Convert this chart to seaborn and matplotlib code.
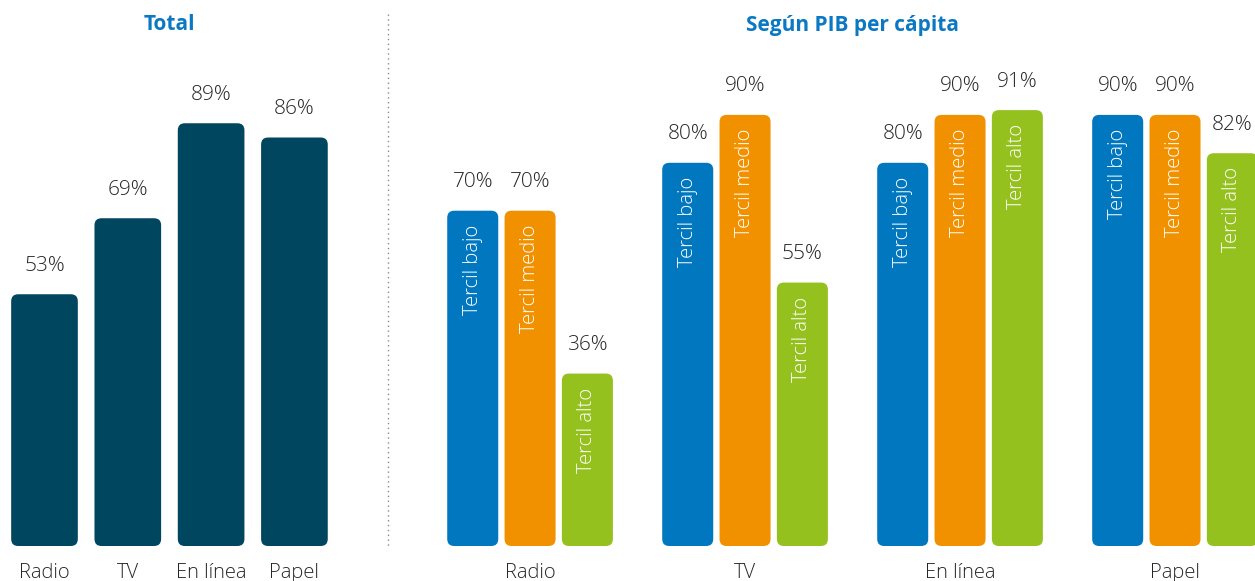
import pandas as pd
import numpy as np
import matplotlib
matplotlib.use("Agg")
import matplotlib.pyplot as plt
import seaborn as sns
from matplotlib.patches import FancyBboxPatch
from matplotlib.lines import Line2D

# data
medios = ["Radio", "TV", "En línea", "Papel"]
total = [53, 69, 89, 86]
terciles = ["Tercil bajo", "Tercil medio", "Tercil alto"]
tercil_bajo = [70, 80, 80, 90]
tercil_medio = [70, 90, 90, 90]
tercil_alto = [36, 55, 91, 82]

NAVY = "#00465f"
COLORS = ["#0077be", "#f29100", "#95c11f"]
TITLE_BLUE = "#0a78c2"
TEXT = "#262626"

sns.set_style("white")
plt.rcParams["font.family"] = ["Open Sans", "DejaVu Sans"]

W, H = 1255, 581
fig = plt.figure(figsize=(W / 100, H / 100), dpi=100)


def px_axes(x0, y_top, x1, y_bottom):
    return fig.add_axes([x0 / W, 1 - y_bottom / H, (x1 - x0) / W, (y_bottom - y_top) / H])


def round_bars(ax, radius_px=7):
    fig.canvas.draw()
    bars = [p for p in ax.patches]
    sx = ax.transData.transform((1, 0))[0] - ax.transData.transform((0, 0))[0]
    sy = ax.transData.transform((0, 1))[1] - ax.transData.transform((0, 0))[1]
    for p in bars:
        r = radius_px / sx
        fb = FancyBboxPatch((p.get_x(), p.get_y()), p.get_width(), p.get_height(),
                            boxstyle=f"round,pad=0,rounding_size={r}",
                            mutation_aspect=sx / sy,
                            facecolor=p.get_facecolor(), edgecolor="none",
                            clip_on=True)
        p.set_visible(False)
        ax.add_patch(fb)


def clean(ax):
    ax.set_xlabel("")
    ax.set_ylabel("")
    ax.set_yticks([])
    sns.despine(ax=ax, left=True, bottom=True)
    ax.tick_params(axis="x", length=0, pad=12, labelsize=14.5, labelcolor=TEXT)
    for t in ax.get_xticklabels():
        t.set_fontweight("light")


# left panel: total
ax1 = px_axes(0, 71, 340, 546)
df_total = pd.DataFrame({"medio": medios, "valor": total})
sns.barplot(data=df_total, x="medio", y="valor", color=NAVY, saturation=1,
            width=0.8, ax=ax1)
ax1.set_xlim(-0.534, 3.547)
ax1.set_ylim(0, 100)
clean(ax1)
for p, v in zip(ax1.patches, total):
    ax1.annotate(f"{v}%", (p.get_x() + p.get_width() / 2, p.get_height()),
                 xytext=(0, 20.5), textcoords="offset points", ha="center", va="center",
                 fontsize=15, color=TEXT, fontweight="light")

# right panel: by GDP tercile
ax2 = px_axes(400, 67, 1255, 546)
df_pib = pd.DataFrame({
    "medio": medios * 3,
    "tercil": np.repeat(terciles, len(medios)),
    "valor": tercil_bajo + tercil_medio + tercil_alto,
})
sns.barplot(data=df_pib, x="medio", y="valor", hue="tercil", hue_order=terciles,
            palette=COLORS, saturation=1, width=0.8, gap=0.11, legend=False, ax=ax2)
ax2.set_xlim(-0.605, 3.372)
ax2.set_ylim(0, 100)
clean(ax2)
for cont, name, vals in zip(ax2.containers, terciles, [tercil_bajo, tercil_medio, tercil_alto]):
    for p, v in zip(cont.patches, vals):
        xc = p.get_x() + p.get_width() / 2
        ax2.annotate(f"{v}%", (xc, p.get_height()), xytext=(0, 20.5),
                     textcoords="offset points", ha="center", va="center",
                     fontsize=15, color=TEXT, fontweight="light", annotation_clip=False)
        ax2.annotate(name, (xc, p.get_height()), xytext=(0, -10),
                     textcoords="offset points", ha="center", va="top", rotation=90,
                     fontsize=14.5, color="white", fontweight="light", clip_on=True)

round_bars(ax1)
round_bars(ax2)

# titles
fig.text((44.5 + 1.5 * 83.33) / W, 1 - 25 / H, "Total", ha="center", va="center",
         fontsize=15, fontweight="bold", color=TITLE_BLUE)
fig.text(853 / W, 1 - 25 / H, "Según PIB per cápita", ha="center", va="center",
         fontsize=15, fontweight="bold", color=TITLE_BLUE)

# divider
fig.add_artist(Line2D([388 / W, 388 / W], [1 - 14 / H, 1 - 546 / H],
                      linestyle=(0, (1, 2.5)), color="#8a8a8a", lw=1))

fig.savefig("out.png", dpi=100)
